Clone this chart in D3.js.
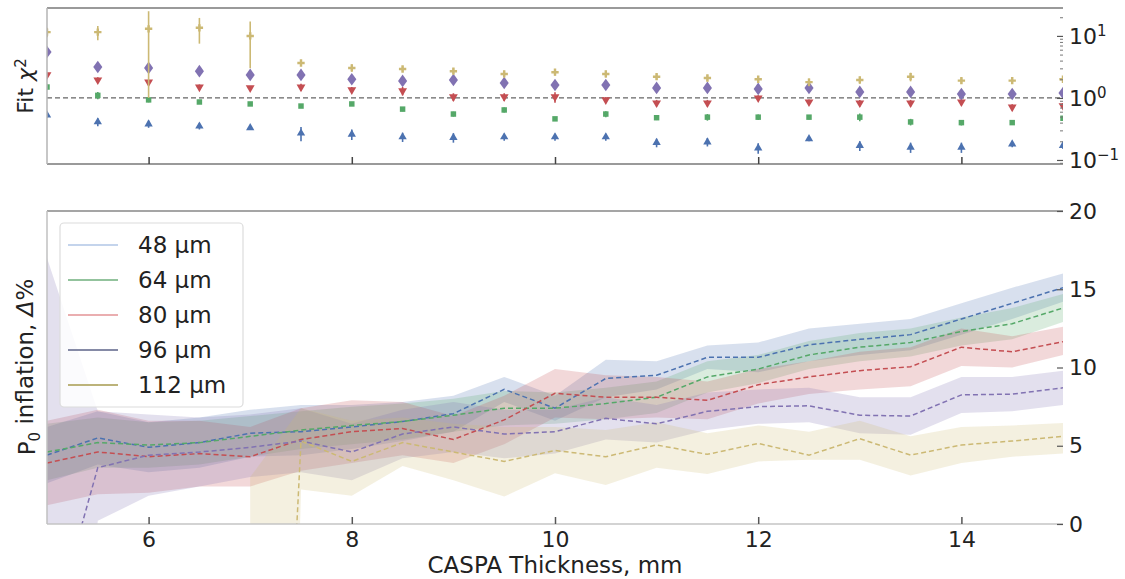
<!DOCTYPE html>
<html><head><meta charset="utf-8">
<script src="https://cdn.jsdelivr.net/npm/d3@7"></script>
<style>
body{margin:0;background:#fff;}
svg text{font-family:"DejaVu Sans",sans-serif;fill:#222;}
</style>
</head><body>
<svg id="chart" width="1125" height="579"></svg>
<script>
// ---------- data ----------
const thickness = [5,5.5,6,6.5,7,7.5,8,8.5,9,9.5,10,10.5,11,11.5,12,12.5,13,13.5,14,14.5,15];
const seriesNames = ["48 µm","64 µm","80 µm","96 µm","112 µm"];
const xTicks = [6,8,10,12,14];
const chiTicks = [0.1,1,10];
const chiTickExp = ["\u22121","0","1"];
const pTicks = [0,5,10,15,20];

// Fit chi^2 (top panel)
const chi48  = [0.53,0.41,0.38,0.35,0.33,0.27,0.26,0.235,0.23,0.235,0.235,0.235,0.19,0.195,0.156,0.22,0.17,0.16,0.16,0.18,0.17];
const chi48e = [0.05,0.06,0.05,0.04,0.02,0.07,0.05,0.04,0.04,0.03,0.03,0.03,0.03,0.03,0.03,0.02,0.03,0.03,0.03,0.02,0.02];
const chi64  = [1.5,1.1,0.93,0.86,0.8,0.74,0.8,0.66,0.55,0.64,0.46,0.55,0.48,0.49,0.49,0.49,0.49,0.41,0.4,0.4,0.47];
const chi64e = [0.15,0.15,0.08,0.06,0.06,0.05,0.06,0.05,0.05,0.06,0.03,0.06,0.04,0.06,0.05,0.04,0.07,0.05,0.04,0.03,0.04];
const chi80  = [2.35,1.95,1.8,1.5,1.45,1.5,1.35,1.3,1.04,1.04,1.04,0.93,0.83,0.83,1.0,0.86,0.83,0.83,0.86,0.71,0.75];
const chi80e = [0.2,0.2,0.15,0.15,0.1,0.2,0.15,0.2,0.15,0.15,0.2,0.1,0.1,0.1,0.1,0.08,0.1,0.1,0.1,0.08,0.08];
const chi96  = [5.5,3.16,3.05,2.7,2.35,2.35,2.0,1.88,1.95,1.74,1.62,1.62,1.45,1.45,1.4,1.45,1.25,1.25,1.16,1.16,1.2];
const chi96e = [0.3,0.3,0.4,0.25,0.2,0.2,0.2,0.15,0.15,0.15,0.15,0.15,0.12,0.12,0.12,0.12,0.1,0.1,0.1,0.1,0.1];
const chi112  = [11.5,11.5,13,13.5,10,3.66,3.05,2.93,2.7,2.44,2.6,2.44,2.2,2.1,2.0,1.8,1.95,2.2,1.9,1.9,2.0];
const chi112e = [2,3,12,6,7,0.4,0.4,0.3,0.3,0.3,0.3,0.3,0.25,0.25,0.2,0.25,0.25,0.35,0.2,0.2,0.2];

// P0 inflation (bottom panel): mean, lower, upper
const p48   = [4.4,5.5,4.9,5.2,5.8,5.9,6.2,6.55,7.05,8.6,7.4,9.3,9.5,10.65,10.65,11.45,11.8,12.1,13.1,14.1,15.1];
const p48lo = [2.6,3.8,3.3,3.6,4.3,4.4,4.8,5.3,5.9,7.8,6.6,8.1,8.6,9.9,9.7,10.4,10.8,11.1,12.1,13.1,14.2];
const p48hi = [6.2,7.2,6.5,6.8,7.3,7.6,7.6,7.8,8.2,9.4,8.2,10.5,10.4,11.4,11.6,12.5,12.8,13.1,14.1,15.1,16.0];
const p64   = [4.6,5.2,5.05,5.2,5.6,6.0,6.3,6.55,6.95,7.4,7.4,7.7,8.1,9.4,9.9,10.8,11.3,11.6,12.3,12.8,13.8];
const p64lo = [2.8,3.6,3.6,3.8,4.3,4.8,5.1,5.4,5.9,6.3,6.4,6.7,7.1,8.4,9.0,9.9,10.4,10.7,11.4,11.8,12.9];
const p64hi = [6.4,6.8,6.5,6.6,6.9,7.2,7.5,7.7,8.0,8.5,8.4,8.7,9.1,10.4,10.8,11.7,12.2,12.5,13.2,13.8,14.7];
const p80   = [3.9,4.6,4.3,4.5,4.3,5.4,5.9,6.1,5.4,6.65,8.35,8.1,8.1,7.9,8.9,9.4,9.8,10.05,11.3,11.0,11.65];
const p80lo = [1.2,1.9,2.0,2.4,2.4,3.4,3.9,4.4,3.9,5.1,6.8,6.7,6.8,6.7,7.7,8.3,8.6,8.8,10.1,10.0,10.8];
const p80hi = [6.6,7.3,6.6,6.6,6.2,7.4,7.9,7.8,6.9,8.2,9.9,9.5,9.4,9.1,9.9,10.4,11.0,11.3,12.5,12.0,12.6];
const p96   = [-8,3.6,4.4,4.6,4.9,5.3,4.6,5.75,6.2,5.75,5.9,6.75,6.4,7.2,7.5,7.55,6.95,6.9,8.25,8.3,8.7];
const p96lo = [-30,0.2,1.8,2.4,3.0,3.3,2.8,4.2,4.6,4.2,4.5,5.4,5.2,6.0,6.4,6.5,5.8,5.7,7.1,7.2,7.6];
const p96hi = [17,7.2,7.0,6.8,7.0,7.4,6.4,7.3,7.8,7.3,7.3,8.1,7.6,8.4,8.6,8.7,8.1,8.1,9.4,9.4,9.8];
const p112   = [null,null,null,null,-60,5.3,4.0,5.2,4.6,4.0,4.7,4.3,5.05,4.45,5.15,4.4,5.45,4.4,5.05,5.3,5.6];
const p112lo = [null,null,null,null,-120,2.2,1.8,3.7,2.8,1.75,3.25,2.5,3.6,3.2,4.0,4.1,4.1,3.1,3.9,4.3,4.5];
const p112hi = [null,null,null,null,3.0,7.4,6.6,6.8,6.4,6.2,6.2,6.0,6.5,5.8,6.3,5.9,6.6,5.6,6.2,6.3,6.45];

// ---------- style ----------
const colors = ["#4C72B0","#55A868","#C44E52","#8172B2","#CCB974"];
const legendLine = ["#c4d4ec","#93c39d","#eaaeb0","#858aa6","#bcb37a"];
const symbols = [d3.symbolTriangle, d3.symbolSquare, "tri-down", d3.symbolDiamond, d3.symbolCross];

const chiSeries = [[chi48,chi48e],[chi64,chi64e],[chi80,chi80e],[chi96,chi96e],[chi112,chi112e]];
const pSeries = [[p48,p48lo,p48hi],[p64,p64lo,p64hi],[p80,p80lo,p80hi],[p96,p96lo,p96hi],[p112,p112lo,p112hi]];

const svg = d3.select("#chart");
const L = 47, R = 1063;
const topT = 8, topB = 164, botT = 211, botB = 524;

const x = d3.scaleLinear().domain([5,15]).range([L,R]);
const yTop = d3.scaleLog().domain([Math.pow(10,-1.065), Math.pow(10,1.45)]).range([topB, topT]);
const yBot = d3.scaleLinear().domain([0,20]).range([botB, botT]);

const defs = svg.append("defs");
defs.append("clipPath").attr("id","clipTop").append("rect").attr("x",L).attr("y",topT).attr("width",R-L).attr("height",topB-topT);
defs.append("clipPath").attr("id","clipBot").append("rect").attr("x",L).attr("y",botT).attr("width",R-L).attr("height",botB-botT);

// ---------- TOP PANEL ----------
const gTop = svg.append("g").attr("clip-path","url(#clipTop)");
gTop.append("line").attr("x1",L).attr("x2",R).attr("y1",yTop(1)).attr("y2",yTop(1))
  .attr("stroke","#666").attr("stroke-width",1.3).attr("stroke-dasharray","5,3");

const minV = Math.pow(10,-1.5);
chiSeries.forEach(([vals, errs], si) => {
  const g = gTop.append("g");
  thickness.forEach((t, i) => {
    const v = vals[i], e = errs[i];
    g.append("line").attr("x1",x(t)).attr("x2",x(t))
      .attr("y1",yTop(Math.max(v-e,minV))).attr("y2",yTop(v+e))
      .attr("stroke",colors[si]).attr("stroke-width",1.6);
    let path;
    if (symbols[si] === "tri-down") {
      path = d3.symbol(d3.symbolTriangle, 34)();
      g.append("path").attr("d",path).attr("transform",`translate(${x(t)},${yTop(v)}) rotate(180)`).attr("fill",colors[si]);
    } else {
      const size = si===3 ? 46 : (si===4 ? 30 : 30);
      path = d3.symbol(symbols[si], size)();
      g.append("path").attr("d",path).attr("transform",`translate(${x(t)},${yTop(v)})`+(si===3?" scale(1.25,1)":""))
        .attr("fill",colors[si]);
    }
  });
});

// top spines
svg.append("line").attr("x1",L).attr("x2",R).attr("y1",topT).attr("y2",topT).attr("stroke","#9a9a9a").attr("stroke-width",2);
svg.append("line").attr("x1",L).attr("x2",R).attr("y1",topB).attr("y2",topB).attr("stroke","#9a9a9a").attr("stroke-width",2);
svg.append("line").attr("x1",L).attr("x2",L).attr("y1",topT).attr("y2",topB).attr("stroke","#b5b5b5").attr("stroke-width",1.5);

// top x ticks (no labels)
svg.append("g").attr("transform",`translate(0,${topB})`)
  .call(d3.axisBottom(x).tickValues(xTicks).tickSize(-7).tickFormat(""))
  .call(g=>g.select(".domain").remove())
  .call(g=>g.selectAll(".tick line").attr("stroke","#444").attr("stroke-width",1.5));

// top right log axis
const minorTicks = [];
[0.1,1,10].forEach(d=>{ for(let k=2;k<=9;k++){ const v=d*k; if(v<=yTop.domain()[1]) minorTicks.push(v);} });
minorTicks.push(0.09);
svg.append("g").attr("transform",`translate(${R},0)`)
  .call(d3.axisRight(yTop).tickValues(minorTicks).tickSize(-3).tickFormat(""))
  .call(g=>g.select(".domain").remove())
  .call(g=>g.selectAll(".tick line").attr("stroke","#777").attr("stroke-width",1));
const topAx = svg.append("g").attr("transform",`translate(${R},0)`)
  .call(d3.axisRight(yTop).tickValues(chiTicks).tickSize(-6).tickPadding(6).tickFormat(""))
  .call(g=>g.select(".domain").remove())
  .call(g=>g.selectAll(".tick line").attr("stroke","#555").attr("stroke-width",1.2));
topAx.selectAll(".tick").each(function(d,i){
  const t = d3.select(this).append("text").attr("x",6).attr("dy","0.35em")
    .attr("text-anchor","start").style("font-size","22px").style("fill","#222");
  t.append("tspan").text("10");
  t.append("tspan").attr("dy","-0.55em").style("font-size","15px").text(chiTickExp[chiTicks.indexOf(d)]);
});

// top y label
const tl = svg.append("text").attr("transform","translate(33,86) rotate(-90)").attr("text-anchor","middle").style("font-size","22px");
tl.append("tspan").text("Fit ");
tl.append("tspan").style("font-style","italic").text("χ");
tl.append("tspan").attr("dy","-0.5em").style("font-size","15px").text("2");

// ---------- BOTTOM PANEL ----------
const gBot = svg.append("g").attr("clip-path","url(#clipBot)");
const idx = thickness.map((t,i)=>i);
pSeries.forEach(([m, lo, hi], si) => {
  const area = d3.area().defined(i=>lo[i]!==null && hi[i]!==null)
    .x(i=>x(thickness[i])).y0(i=>yBot(lo[i])).y1(i=>yBot(hi[i]));
  gBot.append("path").attr("d",area(idx)).attr("fill",colors[si]).attr("fill-opacity",0.22).attr("stroke","none");
});
pSeries.forEach(([m, lo, hi], si) => {
  const line = d3.line().defined(i=>m[i]!==null).x(i=>x(thickness[i])).y(i=>yBot(m[i]));
  gBot.append("path").attr("d",line(idx)).attr("fill","none").attr("stroke",colors[si])
    .attr("stroke-width",1.5).attr("stroke-dasharray","5,3");
});

// bottom spines
svg.append("line").attr("x1",L).attr("x2",R).attr("y1",botT).attr("y2",botT).attr("stroke","#a5a5a5").attr("stroke-width",2);
svg.append("line").attr("x1",L).attr("x2",R).attr("y1",botB).attr("y2",botB).attr("stroke","#c5c5c5").attr("stroke-width",1.5);
svg.append("line").attr("x1",L).attr("x2",L).attr("y1",botT).attr("y2",botB).attr("stroke","#c0c0c0").attr("stroke-width",1.5);

// bottom x axis
svg.append("g").attr("transform",`translate(0,${botB})`)
  .call(d3.axisBottom(x).tickValues(xTicks).tickSize(-7).tickPadding(7).tickFormat(d3.format("d")))
  .call(g=>g.select(".domain").remove())
  .call(g=>g.selectAll(".tick line").attr("stroke","#555").attr("stroke-width",1.5))
  .call(g=>g.selectAll(".tick text").style("font-size","22px").style("fill","#222").style("font-family","DejaVu Sans"));

// bottom right axis
svg.append("g").attr("transform",`translate(${R},0)`)
  .call(d3.axisRight(yBot).tickValues(pTicks).tickSize(-6).tickPadding(6).tickFormat(d3.format("d")))
  .call(g=>g.select(".domain").remove())
  .call(g=>g.selectAll(".tick line").attr("stroke","#555").attr("stroke-width",1.2))
  .call(g=>g.selectAll(".tick text").style("font-size","22px").style("fill","#222").style("font-family","DejaVu Sans"));

// x label
svg.append("text").attr("x",555).attr("y",573).attr("text-anchor","middle").style("font-size","23px").text("CASPA Thickness, mm");

// bottom y label
const bl = svg.append("text").attr("transform","translate(35,367) rotate(-90)").attr("text-anchor","middle").style("font-size","23px");
bl.append("tspan").text("P");
bl.append("tspan").attr("dy","0.3em").style("font-size","15px").text("0");
bl.append("tspan").attr("dy","-0.3em").text(" inflation, ");
bl.append("tspan").style("font-style","italic").text("Δ");
bl.append("tspan").text("%");

// legend
const lg = svg.append("g");
lg.append("rect").attr("x",60).attr("y",223).attr("width",183).attr("height",184).attr("rx",4)
  .attr("fill","#fff").attr("fill-opacity",0.85).attr("stroke","#dcdcdc").attr("stroke-width",1.2);
seriesNames.forEach((n,i)=>{
  const cy = 245 + i*35;
  lg.append("line").attr("x1",68).attr("x2",118).attr("y1",cy).attr("y2",cy).attr("stroke",legendLine[i]).attr("stroke-width",1.8);
  lg.append("text").attr("x",138).attr("y",cy+8).style("font-size","23px").text(n);
});
</script>
</body></html>
